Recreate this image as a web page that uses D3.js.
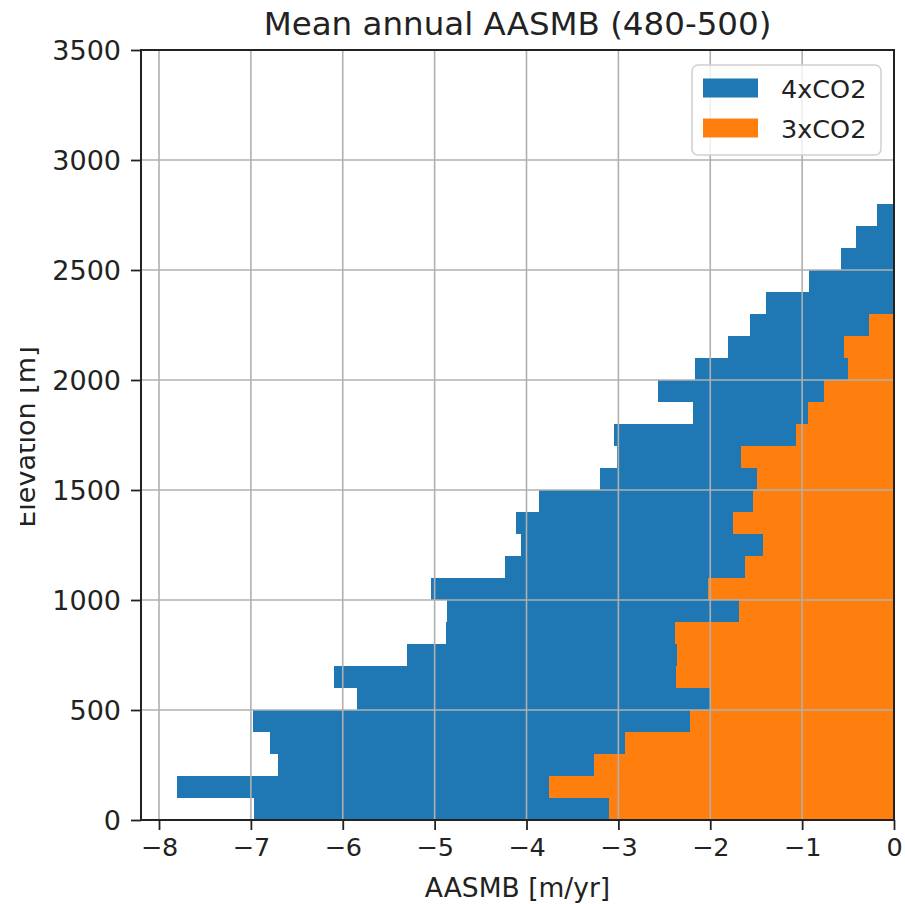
<!DOCTYPE html>
<html>
<head>
<meta charset="utf-8">
<script src="https://cdn.jsdelivr.net/npm/d3@7"></script>
<style>
  html, body { margin: 0; padding: 0; background: #fff; }
  svg { display: block; font-family: "DejaVu Sans", sans-serif; }
</style>
</head>
<body>
<svg id="chart" width="905" height="904"></svg>
<script>
// Elevation bins (lower edge, m), each 100 m tall
const elevBins = [0, 100, 200, 300, 400, 500, 600, 700, 800, 900,
                  1000, 1100, 1200, 1300, 1400, 1500, 1600, 1700, 1800, 1900,
                  2000, 2100, 2200, 2300, 2400, 2500, 2600, 2700];
const binHeight = 100;

// Mean annual AASMB per bin [m/yr]
const smb4xCO2 = [-6.97, -7.80, -6.70, -6.79, -6.98, -5.85, -6.09, -5.30, -4.88, -4.86,
                  -5.04, -4.23, -4.06, -4.11, -3.86, -3.20, -3.01, -3.05, -2.19, -2.57,
                  -2.17, -1.81, -1.57, -1.39, -0.92, -0.58, -0.41, -0.18];
const smb3xCO2 = [-3.10, -3.76, -3.27, -2.93, -2.22, -2.00, -2.37, -2.36, -2.38, -1.69,
                  -2.02, -1.62, -1.43, -1.75, -1.54, -1.49, -1.66, -1.07, -0.94, -0.76,
                  -0.50, -0.54, -0.27];

const seriesNames = ["4xCO2", "3xCO2"];
const seriesColors = ["#1f77b4", "#ff7f0e"];
const xTicks = [-8, -7, -6, -5, -4, -3, -2, -1, 0];
const yTicks = [0, 500, 1000, 1500, 2000, 2500, 3000, 3500];

const titleText = "Mean annual AASMB (480-500)";
const xLabel = "AASMB [m/yr]";
const yLabel = "Elevation [m]";

const svg = d3.select("#chart");
const plot = { left: 141, right: 894, top: 50, bottom: 820 };

const x = d3.scaleLinear().domain([-8.196, 0]).range([plot.left, plot.right]);
const y = d3.scaleLinear().domain([0, 3500]).range([plot.bottom, plot.top]);

// Bars: 4xCO2 underneath, 3xCO2 on top
const series = [smb4xCO2, smb3xCO2];
series.forEach((vals, si) => {
  svg.append("g")
    .selectAll("rect")
    .data(vals.map((v, i) => ({ v, e: elevBins[i] })))
    .join("rect")
    .attr("x", d => x(d.v))
    .attr("width", d => x(0) - x(d.v))
    .attr("y", d => y(d.e + binHeight))
    .attr("height", d => y(d.e) - y(d.e + binHeight))
    .attr("fill", seriesColors[si])
    .attr("shape-rendering", "crispEdges");
});

// Grid lines drawn above the bars
const grid = svg.append("g").attr("stroke", "#b0b0b0").attr("stroke-width", 1.6);
grid.selectAll("line.gx").data(xTicks).join("line")
  .attr("x1", d => x(d)).attr("x2", d => x(d))
  .attr("y1", plot.top).attr("y2", plot.bottom);
grid.selectAll("line.gy").data(yTicks).join("line")
  .attr("y1", d => y(d)).attr("y2", d => y(d))
  .attr("x1", plot.left).attr("x2", plot.right);

// Axes
const xAxis = d3.axisBottom(x).tickValues(xTicks).tickSize(10).tickPadding(8)
  .tickFormat(d => d3.format("d")(d).replace("-", "\u2212"));
const yAxis = d3.axisLeft(y).tickValues(yTicks).tickSize(10).tickPadding(10)
  .tickFormat(d3.format("d"));

const gx = svg.append("g").attr("transform", `translate(0,${plot.bottom})`).call(xAxis);
const gy = svg.append("g").attr("transform", `translate(${plot.left},0)`).call(yAxis);
[gx, gy].forEach(g => {
  g.select(".domain").remove();
  g.selectAll(".tick line").attr("stroke", "#222").attr("stroke-width", 1.8);
  g.selectAll(".tick text").attr("fill", "#222")
    .style("font-family", "DejaVu Sans, sans-serif");
});
gx.selectAll(".tick text").style("font-size", "25.5px");
gy.selectAll(".tick text").style("font-size", "27px").attr("dy", "0.36em");

// Frame
svg.append("rect")
  .attr("x", plot.left).attr("y", plot.top)
  .attr("width", plot.right - plot.left).attr("height", plot.bottom - plot.top)
  .attr("fill", "none").attr("stroke", "#222").attr("stroke-width", 2);

// Title and axis labels
svg.append("text")
  .attr("x", (plot.left + plot.right) / 2).attr("y", 35)
  .attr("text-anchor", "middle").attr("fill", "#222")
  .style("font-size", "32.5px").text(titleText);

svg.append("text")
  .attr("x", (plot.left + plot.right) / 2).attr("y", 897)
  .attr("text-anchor", "middle").attr("fill", "#222")
  .style("font-size", "26.5px").text(xLabel);

svg.append("clipPath").attr("id", "ylabel-clip")
  .append("rect").attr("x", 20).attr("y", 0).attr("width", 100).attr("height", 904);
svg.append("g").attr("clip-path", "url(#ylabel-clip)")
  .append("text")
  .attr("transform", `translate(35,${(plot.top + plot.bottom) / 2 + 2}) rotate(-90)`)
  .attr("text-anchor", "middle").attr("fill", "#222")
  .style("font-size", "27px").text(yLabel);

// Legend
const legend = svg.append("g");
legend.append("rect")
  .attr("x", 692).attr("y", 65).attr("width", 189).attr("height", 90)
  .attr("rx", 6).attr("ry", 6)
  .attr("fill", "#fff").attr("fill-opacity", 0.8)
  .attr("stroke", "#d0d0d0").attr("stroke-width", 1.5);
seriesNames.forEach((name, i) => {
  const cy = 88 + i * 40;
  legend.append("rect")
    .attr("x", 703).attr("y", cy - 9.5).attr("width", 55).attr("height", 19)
    .attr("fill", seriesColors[i]);
  legend.append("text")
    .attr("x", 781).attr("y", cy + 10)
    .attr("fill", "#222").style("font-size", "25.5px").text(name);
});
</script>
</body>
</html>
